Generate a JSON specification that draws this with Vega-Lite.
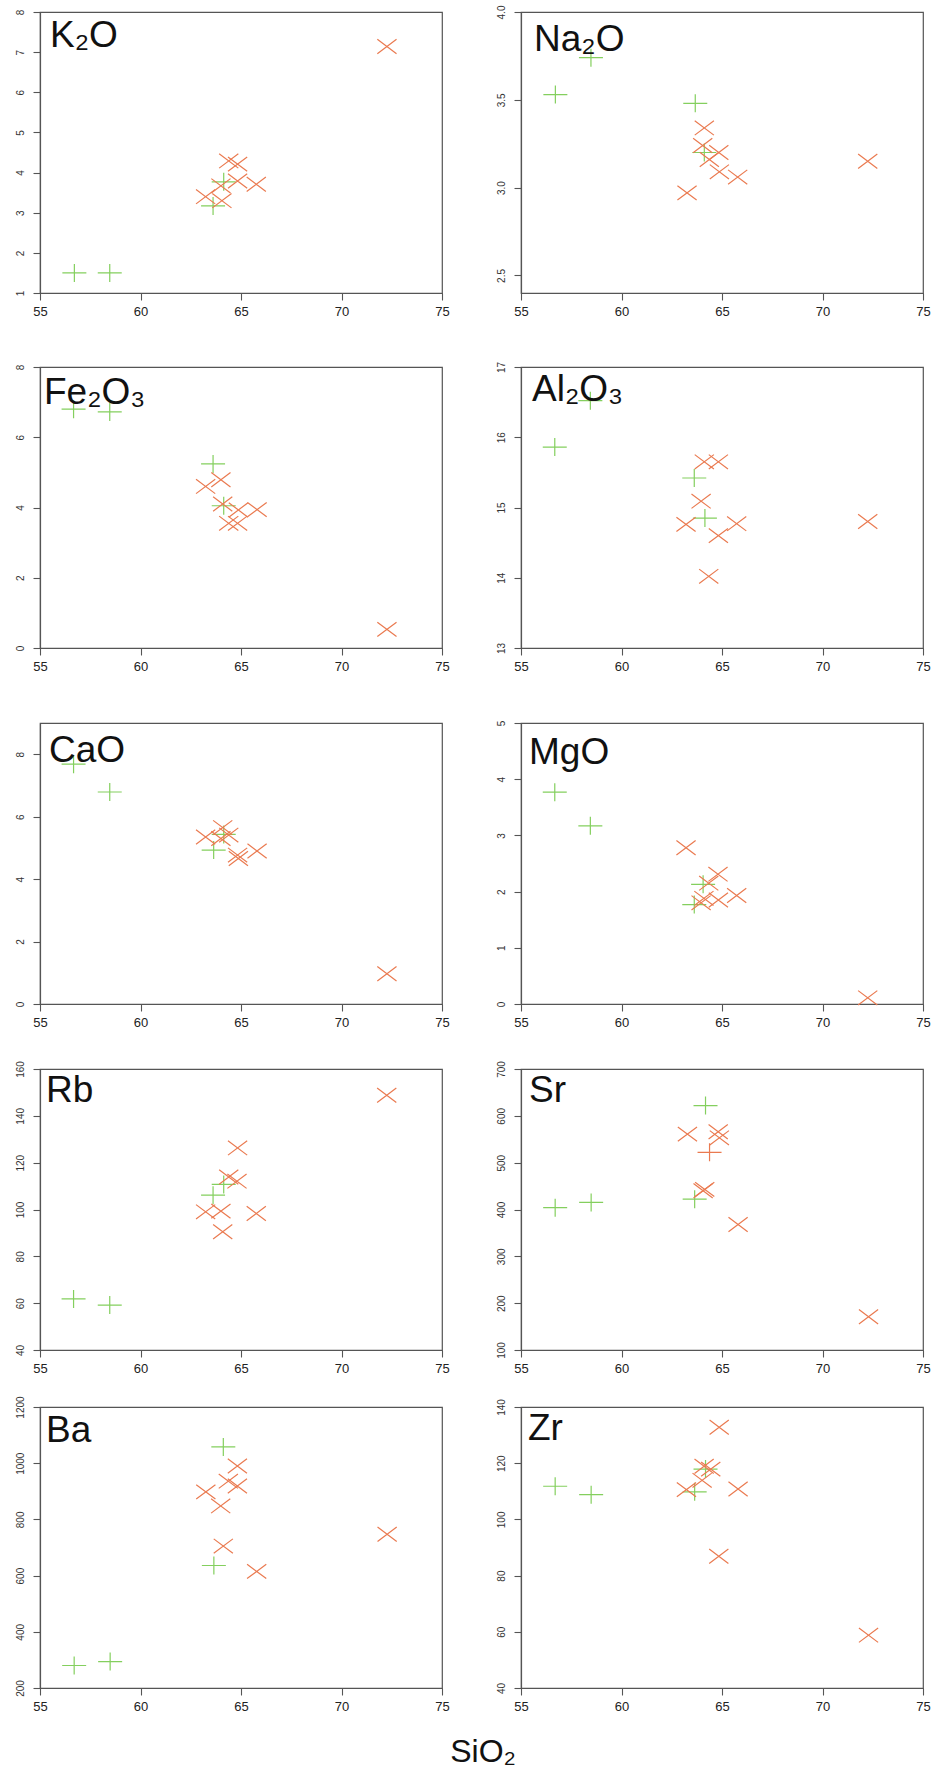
{
  "$schema": "https://vega.github.io/schema/vega-lite/v6.json",
  "background": "white",
  "padding": {"left": 5, "top": 4, "right": 0, "bottom": 0},
  "title": {"text": "SiO₂", "orient": "bottom", "anchor": "middle", "frame": "bounds", "offset": 23, "fontSize": 32, "dx": 15, "font": "Liberation Sans", "fontWeight": "normal", "color": "#111"},
  "datasets": {
    "geo": [
      {"el":"K2O","s":56.71,"v":1.50,"g":"A","m":"plus"},
      {"el":"K2O","s":58.47,"v":1.50,"g":"A","m":"plus"},
      {"el":"K2O","s":63.61,"v":3.17,"g":"A","m":"plus"},
      {"el":"K2O","s":64.14,"v":3.77,"g":"A","m":"plus"},
      {"el":"K2O","s":63.24,"v":3.40,"g":"B","m":"x"},
      {"el":"K2O","s":64.00,"v":3.67,"g":"B","m":"x"},
      {"el":"K2O","s":64.05,"v":3.30,"g":"B","m":"x"},
      {"el":"K2O","s":64.39,"v":4.29,"g":"B","m":"x"},
      {"el":"K2O","s":64.83,"v":4.21,"g":"B","m":"x"},
      {"el":"K2O","s":64.83,"v":3.79,"g":"B","m":"x"},
      {"el":"K2O","s":65.76,"v":3.71,"g":"B","m":"x"},
      {"el":"K2O","s":72.26,"v":7.14,"g":"B","m":"x"},

      {"el":"Na2O","s":56.71,"v":3.53,"g":"A","m":"plus"},
      {"el":"Na2O","s":58.48,"v":3.74,"g":"A","m":"plus"},
      {"el":"Na2O","s":63.67,"v":3.48,"g":"A","m":"plus"},
      {"el":"Na2O","s":64.12,"v":3.20,"g":"A","m":"plus"},
      {"el":"Na2O","s":63.26,"v":2.97,"g":"B","m":"x"},
      {"el":"Na2O","s":64.12,"v":3.34,"g":"B","m":"x"},
      {"el":"Na2O","s":64.04,"v":3.24,"g":"B","m":"x"},
      {"el":"Na2O","s":64.37,"v":3.16,"g":"B","m":"x"},
      {"el":"Na2O","s":64.84,"v":3.20,"g":"B","m":"x"},
      {"el":"Na2O","s":64.87,"v":3.09,"g":"B","m":"x"},
      {"el":"Na2O","s":65.78,"v":3.06,"g":"B","m":"x"},
      {"el":"Na2O","s":72.25,"v":3.15,"g":"B","m":"x"},

      {"el":"Fe2O3","s":56.67,"v":6.80,"g":"A","m":"plus"},
      {"el":"Fe2O3","s":58.47,"v":6.72,"g":"A","m":"plus"},
      {"el":"Fe2O3","s":63.61,"v":5.24,"g":"A","m":"plus"},
      {"el":"Fe2O3","s":64.14,"v":4.05,"g":"A","m":"plus"},
      {"el":"Fe2O3","s":63.24,"v":4.60,"g":"B","m":"x"},
      {"el":"Fe2O3","s":64.00,"v":4.79,"g":"B","m":"x"},
      {"el":"Fe2O3","s":64.09,"v":4.10,"g":"B","m":"x"},
      {"el":"Fe2O3","s":64.39,"v":3.55,"g":"B","m":"x"},
      {"el":"Fe2O3","s":64.83,"v":3.55,"g":"B","m":"x"},
      {"el":"Fe2O3","s":64.87,"v":3.93,"g":"B","m":"x"},
      {"el":"Fe2O3","s":65.80,"v":3.94,"g":"B","m":"x"},
      {"el":"Fe2O3","s":72.26,"v":0.53,"g":"B","m":"x"},

      {"el":"Al2O3","s":56.68,"v":15.86,"g":"A","m":"plus"},
      {"el":"Al2O3","s":58.45,"v":16.52,"g":"A","m":"plus"},
      {"el":"Al2O3","s":63.62,"v":15.42,"g":"A","m":"plus"},
      {"el":"Al2O3","s":64.15,"v":14.85,"g":"A","m":"plus"},
      {"el":"Al2O3","s":63.21,"v":14.76,"g":"B","m":"x"},
      {"el":"Al2O3","s":63.96,"v":15.09,"g":"B","m":"x"},
      {"el":"Al2O3","s":64.12,"v":15.65,"g":"B","m":"x"},
      {"el":"Al2O3","s":64.34,"v":14.02,"g":"B","m":"x"},
      {"el":"Al2O3","s":64.82,"v":15.65,"g":"B","m":"x"},
      {"el":"Al2O3","s":64.82,"v":14.60,"g":"B","m":"x"},
      {"el":"Al2O3","s":65.73,"v":14.77,"g":"B","m":"x"},
      {"el":"Al2O3","s":72.25,"v":14.80,"g":"B","m":"x"},

      {"el":"CaO","s":56.67,"v":7.68,"g":"A","m":"plus"},
      {"el":"CaO","s":58.47,"v":6.79,"g":"A","m":"plus"},
      {"el":"CaO","s":63.64,"v":4.93,"g":"A","m":"plus"},
      {"el":"CaO","s":64.14,"v":5.43,"g":"A","m":"plus"},
      {"el":"CaO","s":63.24,"v":5.35,"g":"B","m":"x"},
      {"el":"CaO","s":64.09,"v":5.65,"g":"B","m":"x"},
      {"el":"CaO","s":64.00,"v":5.30,"g":"B","m":"x"},
      {"el":"CaO","s":64.39,"v":5.41,"g":"B","m":"x"},
      {"el":"CaO","s":64.83,"v":4.77,"g":"B","m":"x"},
      {"el":"CaO","s":64.87,"v":4.66,"g":"B","m":"x"},
      {"el":"CaO","s":65.80,"v":4.90,"g":"B","m":"x"},
      {"el":"CaO","s":72.26,"v":0.97,"g":"B","m":"x"},

      {"el":"MgO","s":56.68,"v":3.77,"g":"A","m":"plus"},
      {"el":"MgO","s":58.45,"v":3.17,"g":"A","m":"plus"},
      {"el":"MgO","s":63.62,"v":1.77,"g":"A","m":"plus"},
      {"el":"MgO","s":64.06,"v":2.13,"g":"A","m":"plus"},
      {"el":"MgO","s":63.21,"v":2.78,"g":"B","m":"x"},
      {"el":"MgO","s":63.96,"v":1.80,"g":"B","m":"x"},
      {"el":"MgO","s":64.10,"v":1.88,"g":"B","m":"x"},
      {"el":"MgO","s":64.34,"v":2.15,"g":"B","m":"x"},
      {"el":"MgO","s":64.80,"v":2.31,"g":"B","m":"x"},
      {"el":"MgO","s":64.82,"v":1.85,"g":"B","m":"x"},
      {"el":"MgO","s":65.73,"v":1.93,"g":"B","m":"x"},
      {"el":"MgO","s":72.25,"v":0.11,"g":"B","m":"x"},

      {"el":"Rb","s":56.67,"v":61.8,"g":"A","m":"plus"},
      {"el":"Rb","s":58.47,"v":59.2,"g":"A","m":"plus"},
      {"el":"Rb","s":63.61,"v":106.1,"g":"A","m":"plus"},
      {"el":"Rb","s":64.14,"v":110.7,"g":"A","m":"plus"},
      {"el":"Rb","s":63.24,"v":99.0,"g":"B","m":"x"},
      {"el":"Rb","s":64.00,"v":99.3,"g":"B","m":"x"},
      {"el":"Rb","s":64.09,"v":90.5,"g":"B","m":"x"},
      {"el":"Rb","s":64.39,"v":113.9,"g":"B","m":"x"},
      {"el":"Rb","s":64.83,"v":126.3,"g":"B","m":"x"},
      {"el":"Rb","s":64.80,"v":112.1,"g":"B","m":"x"},
      {"el":"Rb","s":65.76,"v":98.3,"g":"B","m":"x"},
      {"el":"Rb","s":72.25,"v":148.8,"g":"B","m":"x"},

      {"el":"Sr","s":56.70,"v":404,"g":"A","m":"plus"},
      {"el":"Sr","s":58.49,"v":415,"g":"A","m":"plus"},
      {"el":"Sr","s":63.64,"v":422,"g":"A","m":"plus"},
      {"el":"Sr","s":64.18,"v":622,"g":"A","m":"plus"},
      {"el":"Sr","s":63.28,"v":561,"g":"B","m":"x"},
      {"el":"Sr","s":64.06,"v":440,"g":"B","m":"x"},
      {"el":"Sr","s":64.14,"v":443,"g":"B","m":"x"},
      {"el":"Sr","s":64.81,"v":566,"g":"B","m":"x"},
      {"el":"Sr","s":64.87,"v":553,"g":"B","m":"x"},
      {"el":"Sr","s":65.80,"v":368,"g":"B","m":"x"},
      {"el":"Sr","s":72.29,"v":171,"g":"B","m":"x"},
      {"el":"Sr","s":64.38,"v":522,"g":"B","m":"plus"},

      {"el":"Ba","s":56.70,"v":280,"g":"A","m":"plus"},
      {"el":"Ba","s":58.49,"v":294,"g":"A","m":"plus"},
      {"el":"Ba","s":63.65,"v":636,"g":"A","m":"plus"},
      {"el":"Ba","s":64.12,"v":1058,"g":"A","m":"plus"},
      {"el":"Ba","s":63.25,"v":898,"g":"B","m":"x"},
      {"el":"Ba","s":63.99,"v":848,"g":"B","m":"x"},
      {"el":"Ba","s":64.37,"v":936,"g":"B","m":"x"},
      {"el":"Ba","s":64.12,"v":705,"g":"B","m":"x"},
      {"el":"Ba","s":64.82,"v":990,"g":"B","m":"x"},
      {"el":"Ba","s":64.82,"v":919,"g":"B","m":"x"},
      {"el":"Ba","s":65.78,"v":615,"g":"B","m":"x"},
      {"el":"Ba","s":72.27,"v":747,"g":"B","m":"x"},

      {"el":"Zr","s":56.70,"v":111.8,"g":"A","m":"plus"},
      {"el":"Zr","s":58.49,"v":108.8,"g":"A","m":"plus"},
      {"el":"Zr","s":63.64,"v":109.8,"g":"A","m":"plus"},
      {"el":"Zr","s":64.18,"v":117.9,"g":"A","m":"plus"},
      {"el":"Zr","s":63.23,"v":110.6,"g":"B","m":"x"},
      {"el":"Zr","s":64.01,"v":113.9,"g":"B","m":"x"},
      {"el":"Zr","s":64.11,"v":118.9,"g":"B","m":"x"},
      {"el":"Zr","s":64.44,"v":117.9,"g":"B","m":"x"},
      {"el":"Zr","s":64.86,"v":132.8,"g":"B","m":"x"},
      {"el":"Zr","s":64.84,"v":86.9,"g":"B","m":"x"},
      {"el":"Zr","s":65.80,"v":110.8,"g":"B","m":"x"},
      {"el":"Zr","s":72.29,"v":58.8,"g":"B","m":"x"}
    ]
  },
  "columns": 2,
  "align": {"row": "each", "column": "all"},
  "bounds": "full",
  "spacing": {"row": 14, "column": 36},
  "resolve": {"scale": {"x": "independent", "y": "independent", "color": "independent", "shape": "independent"}},
  "concat": [
    {
      "width": 402, "height": 281,
      "data": {"name": "geo"},
      "transform": [{"filter": "datum.el === 'K2O'"}],
      "title": {"text": "K₂O", "offset": -46, "dx": 10},
      "mark": {"type": "point", "filled": false, "size": 576, "strokeWidth": 1.2, "opacity": 1},
      "encoding": {
        "x": {"field": "s", "type": "quantitative", "scale": {"domain": [55, 75], "nice": false, "zero": false}, "axis": {"title": null, "values": [55, 60, 65, 70, 75], "minExtent": 52}},
        "y": {"field": "v", "type": "quantitative", "scale": {"domain": [1, 8], "nice": false, "zero": false}, "axis": {"title": null, "values": [1, 2, 3, 4, 5, 6, 7, 8], "format": "d"}},
        "color": {"field": "g", "type": "nominal", "scale": {"domain": ["A", "B"], "range": ["#84CF5E", "#EA7A50"]}, "legend": null},
        "shape": {"field": "m", "type": "nominal", "scale": {"domain": ["plus", "x"], "range": ["M-1,0L1,0M0,-0.75L0,0.75", "M-0.8,-0.6L0.8,0.6M-0.8,0.6L0.8,-0.6"]}, "legend": null}
      }
    },
    {
      "width": 402, "height": 281,
      "data": {"name": "geo"},
      "transform": [{"filter": "datum.el === 'Na2O'"}],
      "title": {"text": "Na₂O", "offset": -54, "dx": 13},
      "mark": {"type": "point", "filled": false, "size": 576, "strokeWidth": 1.2, "opacity": 1},
      "encoding": {
        "x": {"field": "s", "type": "quantitative", "scale": {"domain": [55, 75], "nice": false, "zero": false}, "axis": {"title": null, "values": [55, 60, 65, 70, 75], "minExtent": 52}},
        "y": {"field": "v", "type": "quantitative", "scale": {"domain": [2.4, 4.0], "nice": false, "zero": false}, "axis": {"title": null, "values": [2.5, 3.0, 3.5, 4.0], "format": ".1f"}},
        "color": {"field": "g", "type": "nominal", "scale": {"domain": ["A", "B"], "range": ["#84CF5E", "#EA7A50"]}, "legend": null},
        "shape": {"field": "m", "type": "nominal", "scale": {"domain": ["plus", "x"], "range": ["M-1,0L1,0M0,-0.75L0,0.75", "M-0.8,-0.6L0.8,0.6M-0.8,0.6L0.8,-0.6"]}, "legend": null}
      }
    },
    {
      "width": 402, "height": 281,
      "data": {"name": "geo"},
      "transform": [{"filter": "datum.el === 'Fe2O3'"}],
      "title": {"text": "Fe₂O₃", "offset": -48, "dx": 4},
      "mark": {"type": "point", "filled": false, "size": 576, "strokeWidth": 1.2, "opacity": 1},
      "encoding": {
        "x": {"field": "s", "type": "quantitative", "scale": {"domain": [55, 75], "nice": false, "zero": false}, "axis": {"title": null, "values": [55, 60, 65, 70, 75], "minExtent": 56}},
        "y": {"field": "v", "type": "quantitative", "scale": {"domain": [0, 8], "nice": false, "zero": false}, "axis": {"title": null, "values": [0, 2, 4, 6, 8], "format": "d"}},
        "color": {"field": "g", "type": "nominal", "scale": {"domain": ["A", "B"], "range": ["#84CF5E", "#EA7A50"]}, "legend": null},
        "shape": {"field": "m", "type": "nominal", "scale": {"domain": ["plus", "x"], "range": ["M-1,0L1,0M0,-0.75L0,0.75", "M-0.8,-0.6L0.8,0.6M-0.8,0.6L0.8,-0.6"]}, "legend": null}
      }
    },
    {
      "width": 402, "height": 281,
      "data": {"name": "geo"},
      "transform": [{"filter": "datum.el === 'Al2O3'"}],
      "title": {"text": "Al₂O₃", "offset": -48, "dx": 11},
      "mark": {"type": "point", "filled": false, "size": 576, "strokeWidth": 1.2, "opacity": 1},
      "encoding": {
        "x": {"field": "s", "type": "quantitative", "scale": {"domain": [55, 75], "nice": false, "zero": false}, "axis": {"title": null, "values": [55, 60, 65, 70, 75], "minExtent": 56}},
        "y": {"field": "v", "type": "quantitative", "scale": {"domain": [13, 17], "nice": false, "zero": false}, "axis": {"title": null, "values": [13, 14, 15, 16, 17], "format": "d"}},
        "color": {"field": "g", "type": "nominal", "scale": {"domain": ["A", "B"], "range": ["#84CF5E", "#EA7A50"]}, "legend": null},
        "shape": {"field": "m", "type": "nominal", "scale": {"domain": ["plus", "x"], "range": ["M-1,0L1,0M0,-0.75L0,0.75", "M-0.8,-0.6L0.8,0.6M-0.8,0.6L0.8,-0.6"]}, "legend": null}
      }
    },
    {
      "width": 402, "height": 281,
      "data": {"name": "geo"},
      "transform": [{"filter": "datum.el === 'CaO'"}],
      "title": {"text": "CaO", "offset": -47, "dx": 9},
      "mark": {"type": "point", "filled": false, "size": 576, "strokeWidth": 1.2, "opacity": 1},
      "encoding": {
        "x": {"field": "s", "type": "quantitative", "scale": {"domain": [55, 75], "nice": false, "zero": false}, "axis": {"title": null, "values": [55, 60, 65, 70, 75], "minExtent": 41}},
        "y": {"field": "v", "type": "quantitative", "scale": {"domain": [0, 9], "nice": false, "zero": false}, "axis": {"title": null, "values": [0, 2, 4, 6, 8], "format": "d"}},
        "color": {"field": "g", "type": "nominal", "scale": {"domain": ["A", "B"], "range": ["#84CF5E", "#EA7A50"]}, "legend": null},
        "shape": {"field": "m", "type": "nominal", "scale": {"domain": ["plus", "x"], "range": ["M-1,0L1,0M0,-0.75L0,0.75", "M-0.8,-0.6L0.8,0.6M-0.8,0.6L0.8,-0.6"]}, "legend": null}
      }
    },
    {
      "width": 402, "height": 281,
      "data": {"name": "geo"},
      "transform": [{"filter": "datum.el === 'MgO'"}],
      "title": {"text": "MgO", "offset": -52, "dx": 8},
      "mark": {"type": "point", "filled": false, "size": 576, "strokeWidth": 1.2, "opacity": 1},
      "encoding": {
        "x": {"field": "s", "type": "quantitative", "scale": {"domain": [55, 75], "nice": false, "zero": false}, "axis": {"title": null, "values": [55, 60, 65, 70, 75], "minExtent": 41}},
        "y": {"field": "v", "type": "quantitative", "scale": {"domain": [0, 5], "nice": false, "zero": false}, "axis": {"title": null, "values": [0, 1, 2, 3, 4, 5], "format": "d"}},
        "color": {"field": "g", "type": "nominal", "scale": {"domain": ["A", "B"], "range": ["#84CF5E", "#EA7A50"]}, "legend": null},
        "shape": {"field": "m", "type": "nominal", "scale": {"domain": ["plus", "x"], "range": ["M-1,0L1,0M0,-0.75L0,0.75", "M-0.8,-0.6L0.8,0.6M-0.8,0.6L0.8,-0.6"]}, "legend": null}
      }
    },
    {
      "width": 402, "height": 281,
      "data": {"name": "geo"},
      "transform": [{"filter": "datum.el === 'Rb'"}],
      "title": {"text": "Rb", "offset": -49, "dx": 6},
      "mark": {"type": "point", "filled": false, "size": 576, "strokeWidth": 1.2, "opacity": 1},
      "encoding": {
        "x": {"field": "s", "type": "quantitative", "scale": {"domain": [55, 75], "nice": false, "zero": false}, "axis": {"title": null, "values": [55, 60, 65, 70, 75], "minExtent": 30}},
        "y": {"field": "v", "type": "quantitative", "scale": {"domain": [40, 160], "nice": false, "zero": false}, "axis": {"title": null, "values": [40, 60, 80, 100, 120, 140, 160], "format": "d"}},
        "color": {"field": "g", "type": "nominal", "scale": {"domain": ["A", "B"], "range": ["#84CF5E", "#EA7A50"]}, "legend": null},
        "shape": {"field": "m", "type": "nominal", "scale": {"domain": ["plus", "x"], "range": ["M-1,0L1,0M0,-0.75L0,0.75", "M-0.8,-0.6L0.8,0.6M-0.8,0.6L0.8,-0.6"]}, "legend": null}
      }
    },
    {
      "width": 402, "height": 281,
      "data": {"name": "geo"},
      "transform": [{"filter": "datum.el === 'Sr'"}],
      "title": {"text": "Sr", "offset": -49, "dx": 8},
      "mark": {"type": "point", "filled": false, "size": 576, "strokeWidth": 1.2, "opacity": 1},
      "encoding": {
        "x": {"field": "s", "type": "quantitative", "scale": {"domain": [55, 75], "nice": false, "zero": false}, "axis": {"title": null, "values": [55, 60, 65, 70, 75], "minExtent": 30}},
        "y": {"field": "v", "type": "quantitative", "scale": {"domain": [100, 700], "nice": false, "zero": false}, "axis": {"title": null, "values": [100, 200, 300, 400, 500, 600, 700], "format": "d"}},
        "color": {"field": "g", "type": "nominal", "scale": {"domain": ["A", "B"], "range": ["#84CF5E", "#EA7A50"]}, "legend": null},
        "shape": {"field": "m", "type": "nominal", "scale": {"domain": ["plus", "x"], "range": ["M-1,0L1,0M0,-0.75L0,0.75", "M-0.8,-0.6L0.8,0.6M-0.8,0.6L0.8,-0.6"]}, "legend": null}
      }
    },
    {
      "width": 402, "height": 281,
      "data": {"name": "geo"},
      "transform": [{"filter": "datum.el === 'Ba'"}],
      "title": {"text": "Ba", "offset": -54, "dx": 6},
      "mark": {"type": "point", "filled": false, "size": 576, "strokeWidth": 1.2, "opacity": 1},
      "encoding": {
        "x": {"field": "s", "type": "quantitative", "scale": {"domain": [55, 75], "nice": false, "zero": false}, "axis": {"title": null, "values": [55, 60, 65, 70, 75]}},
        "y": {"field": "v", "type": "quantitative", "scale": {"domain": [200, 1200], "nice": false, "zero": false}, "axis": {"title": null, "values": [200, 400, 600, 800, 1000, 1200], "format": "d"}},
        "color": {"field": "g", "type": "nominal", "scale": {"domain": ["A", "B"], "range": ["#84CF5E", "#EA7A50"]}, "legend": null},
        "shape": {"field": "m", "type": "nominal", "scale": {"domain": ["plus", "x"], "range": ["M-1,0L1,0M0,-0.75L0,0.75", "M-0.8,-0.6L0.8,0.6M-0.8,0.6L0.8,-0.6"]}, "legend": null}
      }
    },
    {
      "width": 402, "height": 281,
      "data": {"name": "geo"},
      "transform": [{"filter": "datum.el === 'Zr'"}],
      "title": {"text": "Zr", "offset": -49, "dx": 7},
      "mark": {"type": "point", "filled": false, "size": 576, "strokeWidth": 1.2, "opacity": 1},
      "encoding": {
        "x": {"field": "s", "type": "quantitative", "scale": {"domain": [55, 75], "nice": false, "zero": false}, "axis": {"title": null, "values": [55, 60, 65, 70, 75]}},
        "y": {"field": "v", "type": "quantitative", "scale": {"domain": [40, 140], "nice": false, "zero": false}, "axis": {"title": null, "values": [40, 60, 80, 100, 120, 140], "format": "d"}},
        "color": {"field": "g", "type": "nominal", "scale": {"domain": ["A", "B"], "range": ["#84CF5E", "#EA7A50"]}, "legend": null},
        "shape": {"field": "m", "type": "nominal", "scale": {"domain": ["plus", "x"], "range": ["M-1,0L1,0M0,-0.75L0,0.75", "M-0.8,-0.6L0.8,0.6M-0.8,0.6L0.8,-0.6"]}, "legend": null}
      }
    }
  ],
  "config": {
    "font": "Liberation Sans",
    "view": {"stroke": "#555555", "strokeWidth": 1.2},
    "title": {"anchor": "start", "frame": "group", "orient": "top", "fontSize": 37, "font": "Liberation Sans", "fontWeight": "normal", "color": "#111111"},
    "axis": {"grid": false, "domainColor": "#555555", "domainWidth": 1.2, "tickColor": "#555555", "tickWidth": 1.1, "tickSize": 7, "labelFont": "Liberation Sans", "labelFlush": false, "labelOverlap": false},
    "axisX": {"labelPadding": 5, "labelFontSize": 13, "labelColor": "#222222"},
    "axisY": {"labelAngle": 270, "labelAlign": "center", "labelBaseline": "bottom", "labelPadding": 8, "labelFontSize": 10, "labelColor": "#333333", "minExtent": 34}
  }
}
